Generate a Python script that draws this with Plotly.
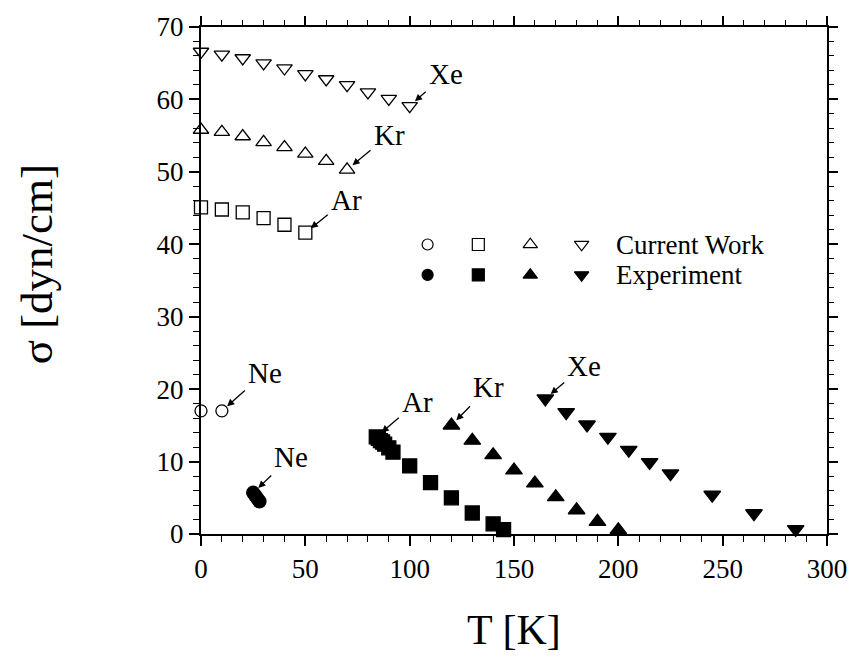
import plotly.graph_objects as go

FONT = "Liberation Serif"

# ---- Current work (simulation): open symbols ----
ne_cw_T = [0, 10]
ne_cw_sigma = [17.0, 17.0]

ar_cw_T = [0, 10, 20, 30, 40, 50]
ar_cw_sigma = [45.1, 44.8, 44.4, 43.6, 42.7, 41.6]

kr_cw_T = [0, 10, 20, 30, 40, 50, 60, 70]
kr_cw_sigma = [55.8, 55.5, 54.9, 54.1, 53.4, 52.5, 51.5, 50.3]

xe_cw_T = [0, 10, 20, 30, 40, 50, 60, 70, 80, 90, 100]
xe_cw_sigma = [66.6, 66.2, 65.7, 65.0, 64.3, 63.5, 62.8, 62.0, 61.0, 60.1, 59.1]

# ---- Experiment: filled symbols ----
ne_ex_T = [25, 26, 27, 28]
ne_ex_sigma = [5.7, 5.3, 4.9, 4.5]

ar_ex_T = [84, 85, 86, 87, 88, 90, 92, 100, 110, 120, 130, 140, 145]
ar_ex_sigma = [13.4, 13.2, 12.9, 12.7, 12.4, 11.9, 11.3, 9.4, 7.1, 5.0, 2.9, 1.4, 0.6]

kr_ex_T = [120, 130, 140, 150, 160, 170, 180, 190, 200]
kr_ex_sigma = [15.0, 12.9, 10.9, 8.8, 7.0, 5.1, 3.3, 1.7, 0.55]

xe_ex_T = [165, 175, 185, 195, 205, 215, 225, 245, 265, 285]
xe_ex_sigma = [18.7, 16.8, 15.1, 13.4, 11.6, 9.9, 8.35, 5.4, 2.85, 0.65]

# axis ranges
T_RANGE = [0, 300]
SIGMA_RANGE = [0, 70]

# marker symbols per element (open = current work, filled = experiment)
symbols = {"Ne": "circle", "Ar": "square", "Kr": "triangle-up", "Xe": "triangle-down"}
sizes = {"Ne": 12, "Ar": 13, "Kr": 13.5, "Xe": 13.5}

fig = go.Figure()


def add_series(T, s, elem, filled):
    sym = symbols[elem] + ("" if filled else "-open")
    fig.add_trace(go.Scatter(
        x=T, y=s, mode="markers", cliponaxis=False,
        marker=dict(symbol=sym, size=sizes[elem] + (1 if filled else 0), color="black",
                    line=dict(color="black", width=1.3)),
        showlegend=False, hoverinfo="skip",
    ))


add_series(ne_cw_T, ne_cw_sigma, "Ne", False)
add_series(ar_cw_T, ar_cw_sigma, "Ar", False)
add_series(kr_cw_T, kr_cw_sigma, "Kr", False)
add_series(xe_cw_T, xe_cw_sigma, "Xe", False)
add_series(ne_ex_T, ne_ex_sigma, "Ne", True)
add_series(ar_ex_T, ar_ex_sigma, "Ar", True)
add_series(kr_ex_T, kr_ex_sigma, "Kr", True)
add_series(xe_ex_T, xe_ex_sigma, "Xe", True)

# ---- key: two rows of symbols drawn on an overlay axis spanning [0, 1] ----
key_cols = [0.362, 0.443, 0.526, 0.608]
key_rows = {"Current Work": 0.571, "Experiment": 0.511}
for row_name, yy in key_rows.items():
    filled = row_name == "Experiment"
    for xx, elem in zip(key_cols, ["Ne", "Ar", "Kr", "Xe"]):
        sym = symbols[elem] + ("" if filled else "-open")
        fig.add_trace(go.Scatter(
            x=[xx], y=[yy], xaxis="x2", yaxis="y2", mode="markers",
            marker=dict(symbol=sym, size=sizes[elem] - 1, color="black",
                        line=dict(color="black", width=1.2)),
            showlegend=False, hoverinfo="skip",
        ))

# empty trace so the top/right tick axes are rendered
fig.add_trace(go.Scatter(x=[None], y=[None], xaxis="x3", yaxis="y3",
                         showlegend=False, hoverinfo="skip"))

annotations = []
for row_name, yy in key_rows.items():
    annotations.append(dict(
        x=0.661, y=yy, xref="paper", yref="paper", text=row_name,
        showarrow=False, xanchor="left", yanchor="middle", borderpad=0,
        font=dict(family=FONT, size=27, color="black"),
    ))


def label(text, T, s, ax, ay):
    return dict(
        x=T, y=s, xref="x", yref="y", text=text, showarrow=True,
        arrowhead=2, arrowsize=1.1, arrowwidth=1.3, arrowcolor="black",
        ax=ax, ay=ay, standoff=7, startstandoff=2,
        font=dict(family=FONT, size=29, color="black"),
    )


# element labels pointing at the end points of each series
annotations += [
    label("Xe", xe_cw_T[-1], xe_cw_sigma[-1], 36, -32),
    label("Kr", kr_cw_T[-1], kr_cw_sigma[-1], 42, -35),
    label("Ar", ar_cw_T[-1], ar_cw_sigma[-1], 41, -33),
    label("Ne", ne_cw_T[-1], ne_cw_sigma[-1], 43, -38),
    label("Ne", ne_ex_T[0], ne_ex_sigma[0], 38, -36),
    label("Ar", ar_ex_T[0], ar_ex_sigma[0], 41, -35),
    label("Kr", kr_ex_T[0], kr_ex_sigma[0], 37, -38),
    label("Xe", xe_ex_T[0], xe_ex_sigma[0], 39, -33),
]

# page geometry
L, R, T_, B = 201, 27, 25, 126
W, H = 859, 660
pw, ph = W - L - R, H - T_ - B

# axis titles, placed in paper coordinates
annotations += [
    dict(x=0.5, y=(H - B - 630) / ph, xref="paper", yref="paper",
         xanchor="center", yanchor="middle", text="T [K]", showarrow=False,
         font=dict(family=FONT, size=42, color="black")),
    dict(x=(36 - L) / pw, y=(H - B - 263) / ph, xref="paper", yref="paper",
         xanchor="center", yanchor="middle", text="σ [dyn/cm]", showarrow=False,
         textangle=-90, font=dict(family=FONT, size=45, color="black")),
]

tick_style = dict(ticks="outside", ticklen=10, tickwidth=1.6, tickcolor="black",
                  showgrid=False, zeroline=False)
x_minor = dict(dtick=10, ticks="outside", ticklen=6, tickwidth=1.3,
               tickcolor="black", showgrid=False)
y_minor = dict(dtick=2, ticks="outside", ticklen=6, tickwidth=1.3,
               tickcolor="black", showgrid=False)

fig.update_layout(
    width=W, height=H,
    margin=dict(l=L, r=R, t=T_, b=B, pad=0),
    paper_bgcolor="white", plot_bgcolor="white",
    showlegend=False,
    font=dict(family=FONT, color="black"),
    xaxis=dict(range=T_RANGE, tick0=0, dtick=50, minor=x_minor,
               showline=True, linewidth=2, linecolor="black", mirror=True,
               tickfont=dict(family=FONT, size=27, color="black"), **tick_style),
    yaxis=dict(range=SIGMA_RANGE, tick0=0, dtick=10, minor=y_minor,
               showline=True, linewidth=2, linecolor="black", mirror=True,
               tickfont=dict(family=FONT, size=27, color="black"), **tick_style),
    # top and right tick marks (no labels)
    xaxis3=dict(overlaying="x", side="top", anchor="y", range=T_RANGE, tick0=0, dtick=50,
                minor=x_minor, showticklabels=False, showline=False, **tick_style),
    yaxis3=dict(overlaying="y", side="right", anchor="x", range=SIGMA_RANGE, tick0=0, dtick=10,
                minor=y_minor, showticklabels=False, showline=False, **tick_style),
    xaxis2=dict(overlaying="x", range=[0, 1], visible=False),
    yaxis2=dict(overlaying="y", range=[0, 1], visible=False),
    annotations=annotations,
)

fig.write_html("out.html")
